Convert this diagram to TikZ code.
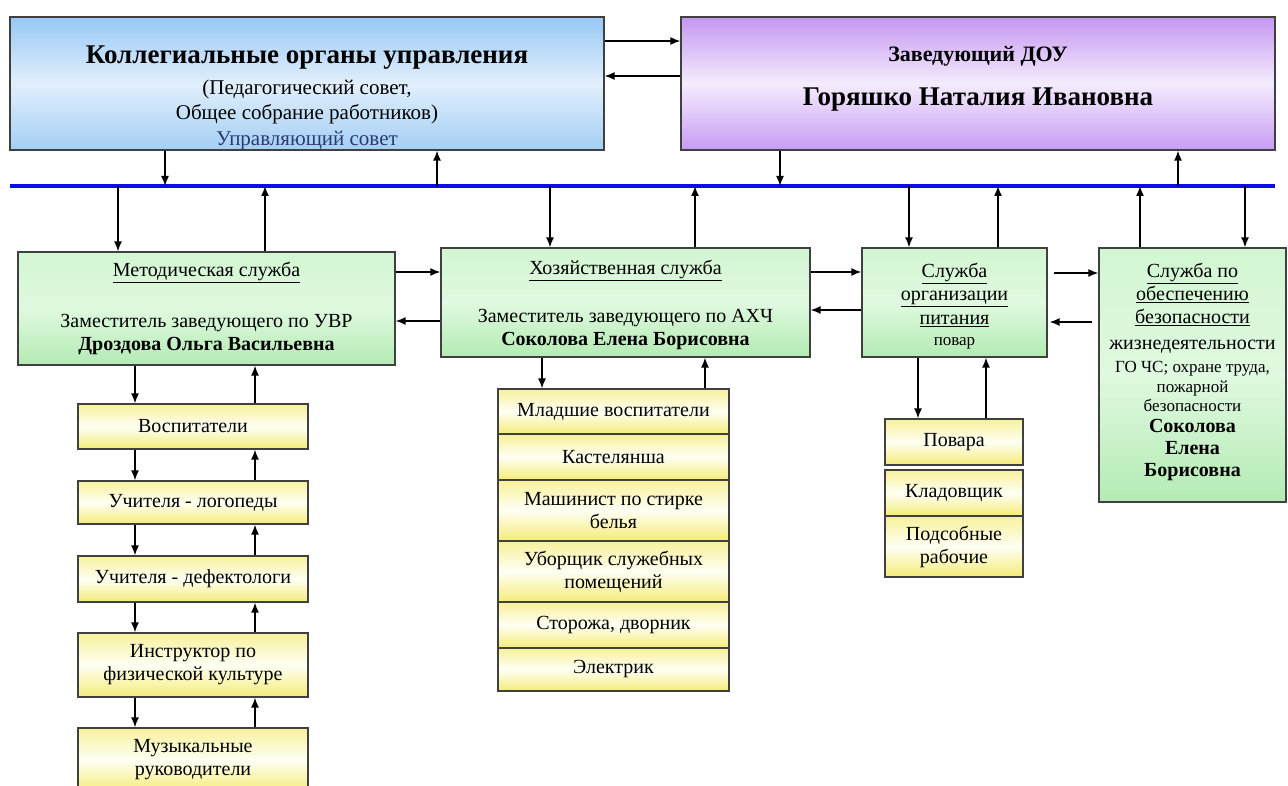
\documentclass[tikz,border=0pt]{standalone}
\usepackage{fontspec}
\setmainfont{Liberation Serif}
\usetikzlibrary{arrows.meta}
\definecolor{kollegtop}{HTML}{96C8F5}
\definecolor{kollegmid}{HTML}{E2EFFC}
\definecolor{kollegbot}{HTML}{A3CFF4}
\definecolor{zavtop}{HTML}{C596F2}
\definecolor{zavmid}{HTML}{F4ECFD}
\definecolor{zavbot}{HTML}{C89CF3}
\definecolor{servtop}{HTML}{D2F6D2}
\definecolor{servmid}{HTML}{E0F9E0}
\definecolor{servbot}{HTML}{B3EBB3}
\definecolor{stafftop}{HTML}{F7F19A}
\definecolor{staffmid}{HTML}{FFFFF4}
\definecolor{staffbot}{HTML}{F4EC78}
\definecolor{busblue}{HTML}{0C0CE8}
\definecolor{upravblue}{HTML}{2B3A70}

\begin{document}
\begin{tikzpicture}[x=1pt, y=-1pt, >={Latex[length=10pt,width=8pt]},
    box/.style={draw=black!75, line width=1.2pt, inner sep=0pt, align=center,
        font=\fontsize{20}{23}\selectfont},
    kollegbox/.style={box, top color=kollegtop, bottom color=kollegbot, middle color=kollegmid},
    zavbox/.style={box, top color=zavtop, bottom color=zavbot, middle color=zavmid},
    servbox/.style={box, top color=servtop, bottom color=servbot, middle color=servmid},
    staffbox/.style={box, top color=stafftop, bottom color=staffbot, middle color=staffmid},
    link/.style={->, line width=1.5pt},
    bus/.style={line width=3.5pt, draw=busblue}]

    \clip (0,0) rectangle (1288,786);

    % top level
    \node[kollegbox, minimum width=594pt, minimum height=133pt] (kolleg) at (307,83.5) {};
    \node[align=center, font=\fontsize{21}{25}\selectfont] (kollegtext) at (307,98)
        {{\fontsize{27}{32}\selectfont\bfseries Коллегиальные органы управления}\\[6pt]
         (Педагогический совет,\\
         Общее собрание работников)\\[1pt]
         {\color{upravblue}Управляющий совет}};
    \node[zavbox, minimum width=594pt, minimum height=133pt] (zav) at (978,83.5) {};
    \node[align=center, font=\bfseries] (zavtext) at (978,79)
        {{\fontsize{22}{26}\selectfont Заведующий ДОУ}\\[20pt]
         {\fontsize{27}{26}\selectfont Горяшко Наталия Ивановна}};

    \draw[link] (kolleg.east |- 0,41) -- (zav.west |- 0,41);
    \draw[link] (zav.west |- 0,76) -- (kolleg.east |- 0,76);

    \coordinate (busL) at (10,186);
    \coordinate (busR) at (1275,186);
    \draw[bus] (busL) -- (busR);

    \draw[link] (kolleg.south -| 165,0) -- (busL -| 165,0);
    \draw[link] (busL -| 437,0) -- (kolleg.south -| 437,0);
    \draw[link] (zav.south -| 780,0) -- (busL -| 780,0);
    \draw[link] (busL -| 1178,0) -- (zav.south -| 1178,0);

    % services
    \node[servbox, minimum width=377pt, minimum height=113pt] (metod) at (206.5,308.5)
        {\underline{Методическая служба}\\[28pt]
         Заместитель заведующего по УВР\\
         \textbf{Дроздова Ольга Васильевна}};
    \node[servbox, minimum width=369pt, minimum height=109pt] (hoz) at (625.5,302.5)
        {\rule{0pt}{20pt}\underline{Хозяйственная служба}\\[25pt]
         Заместитель заведующего по АХЧ\\
         \textbf{Соколова Елена Борисовна}};
    \node[servbox, minimum width=185pt, minimum height=109pt] (pit) at (954.5,302.5)
        {\rule{0pt}{21pt}\underline{Служба}\\[0.5pt]
         \underline{организации}\\[0.5pt]
         \underline{питания}\\[-2pt]
         {\fontsize{17}{20}\selectfont повар}};
    \node[servbox, minimum width=187pt, minimum height=254pt] (bez) at (1192.5,375)
        {\underline{Служба по}\\
         \underline{обеспечению}\\
         \underline{безопасности}\\[3pt]
         жизнедеятельности\\
         {\fontsize{17}{20}\selectfont ГО ЧС; охране труда,}\\[-3pt]
         {\fontsize{17}{20}\selectfont пожарной}\\[-4pt]
         {\fontsize{17}{20}\selectfont безопасности}\\[-2pt]
         \textbf{Соколова}\\[-1pt]
         \textbf{Елена}\\[-1pt]
         \textbf{Борисовна}\rule[-11pt]{0pt}{1pt}};

    \draw[link] (busL -| 118,0) -- (metod.north -| 118,0);
    \draw[link] (metod.north -| 265,0) -- (busL -| 265,0);
    \draw[link] (busL -| 550,0) -- (hoz.north -| 550,0);
    \draw[link] (hoz.north -| 695,0) -- (busL -| 695,0);
    \draw[link] (busL -| 909,0) -- (pit.north -| 909,0);
    \draw[link] (pit.north -| 998,0) -- (busL -| 998,0);
    \draw[link] (bez.north -| 1140,0) -- (busL -| 1140,0);
    \draw[link] (busL -| 1245,0) -- (bez.north -| 1245,0);

    \draw[link] (metod.east |- 0,272) -- (hoz.west |- 0,272);
    \draw[link] (hoz.west |- 0,321) -- (metod.east |- 0,321);
    \draw[link] (hoz.east |- 0,272) -- (pit.west |- 0,272);
    \draw[link] (pit.west |- 0,310) -- (hoz.east |- 0,310);
    \draw[link, shorten <=6pt] (pit.east |- 0,273) -- (bez.west |- 0,273);
    \draw[link, shorten <=6pt, shorten >=2pt] (bez.west |- 0,322) -- (pit.east |- 0,322);

    % methodical staff
    \node[staffbox, minimum width=230pt, minimum height=45pt] (vosp) at (193,426.5) {Воспитатели};
    \node[staffbox, minimum width=230pt, minimum height=43pt] (logo) at (193,502.5) {Учителя - логопеды};
    \node[staffbox, minimum width=230pt, minimum height=46pt] (defe) at (193,579) {Учителя - дефектологи};
    \node[staffbox, minimum width=230pt, minimum height=64pt] (instr) at (193,665)
        {Инструктор по\\физической культуре};
    \node[staffbox, minimum width=230pt, minimum height=64pt] (muz) at (193,760)
        {Музыкальные\\руководители};

    \draw[link] (metod.south -| 135,0) -- (vosp.north -| 135,0);
    \draw[link] (vosp.north -| 255,0) -- (metod.south -| 255,0);
    \draw[link] (vosp.south -| 135,0) -- (logo.north -| 135,0);
    \draw[link] (logo.north -| 255,0) -- (vosp.south -| 255,0);
    \draw[link] (logo.south -| 135,0) -- (defe.north -| 135,0);
    \draw[link] (defe.north -| 255,0) -- (logo.south -| 255,0);
    \draw[link] (defe.south -| 135,0) -- (instr.north -| 135,0);
    \draw[link] (instr.north -| 255,0) -- (defe.south -| 255,0);
    \draw[link] (instr.south -| 135,0) -- (muz.north -| 135,0);
    \draw[link] (muz.north -| 255,0) -- (instr.south -| 255,0);

    % household staff
    \node[staffbox, minimum width=231pt, minimum height=45pt] (mlad) at (613.5,411.5) {Младшие воспитатели};
    \node[staffbox, minimum width=231pt, minimum height=46pt] (kast) at (613.5,457) {Кастелянша};
    \node[staffbox, minimum width=231pt, minimum height=61pt] (mash) at (613.5,510.5)
        {Машинист по стирке\\белья};
    \node[staffbox, minimum width=231pt, minimum height=61pt] (ubor) at (613.5,571.5)
        {Уборщик служебных\\помещений};
    \node[staffbox, minimum width=231pt, minimum height=46pt] (stor) at (613.5,625) {Сторожа, дворник};
    \node[staffbox, minimum width=231pt, minimum height=43pt] (elek) at (613.5,669.5) {Электрик};

    \draw[link] (hoz.south -| 542,0) -- (mlad.north -| 542,0);
    \draw[link] (mlad.north -| 705,0) -- (hoz.south -| 705,0);

    % kitchen staff
    \node[staffbox, minimum width=138pt, minimum height=46pt] (povar) at (954,442) {Повара};
    \node[staffbox, minimum width=138pt, minimum height=46pt] (klad) at (954,493) {Кладовщик};
    \node[staffbox, minimum width=138pt, minimum height=61pt] (pods) at (954,546.5)
        {Подсобные\\рабочие};

    \draw[link] (pit.south -| 918,0) -- (povar.north -| 918,0);
    \draw[link] (povar.north -| 986,0) -- (pit.south -| 986,0);
\end{tikzpicture}
\end{document}
